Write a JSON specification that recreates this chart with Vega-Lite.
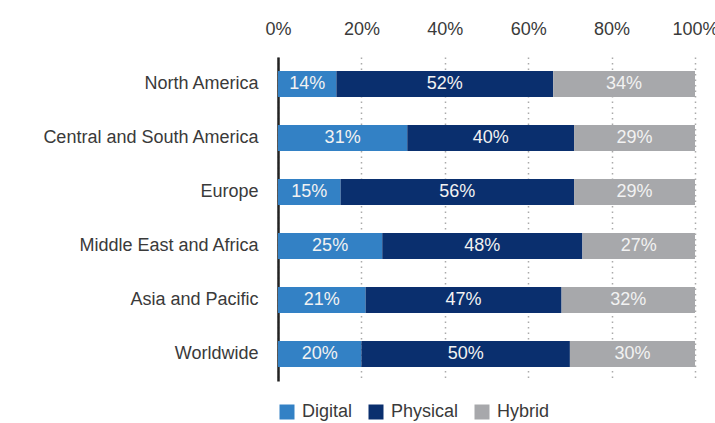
{
  "$schema": "https://vega.github.io/schema/vega-lite/v6.json",
  "width": 417,
  "height": 324,
  "autosize": {"type": "none"},
  "padding": {"left": 278, "top": 57, "right": 20, "bottom": 42},
  "background": "white",
  "config": {
    "view": {"stroke": null},
    "font": "Liberation Sans"
  },
  "data": {
    "values": [
      {"region": "North America", "type": "Digital", "o": 1, "value": 14},
      {"region": "North America", "type": "Physical", "o": 2, "value": 52},
      {"region": "North America", "type": "Hybrid", "o": 3, "value": 34},
      {"region": "Central and South America", "type": "Digital", "o": 1, "value": 31},
      {"region": "Central and South America", "type": "Physical", "o": 2, "value": 40},
      {"region": "Central and South America", "type": "Hybrid", "o": 3, "value": 29},
      {"region": "Europe", "type": "Digital", "o": 1, "value": 15},
      {"region": "Europe", "type": "Physical", "o": 2, "value": 56},
      {"region": "Europe", "type": "Hybrid", "o": 3, "value": 29},
      {"region": "Middle East and Africa", "type": "Digital", "o": 1, "value": 25},
      {"region": "Middle East and Africa", "type": "Physical", "o": 2, "value": 48},
      {"region": "Middle East and Africa", "type": "Hybrid", "o": 3, "value": 27},
      {"region": "Asia and Pacific", "type": "Digital", "o": 1, "value": 21},
      {"region": "Asia and Pacific", "type": "Physical", "o": 2, "value": 47},
      {"region": "Asia and Pacific", "type": "Hybrid", "o": 3, "value": 32},
      {"region": "Worldwide", "type": "Digital", "o": 1, "value": 20},
      {"region": "Worldwide", "type": "Physical", "o": 2, "value": 50},
      {"region": "Worldwide", "type": "Hybrid", "o": 3, "value": 30}
    ]
  },
  "transform": [
    {"stack": "value", "groupby": ["region"], "sort": [{"field": "o"}], "as": ["x0", "x1"]},
    {"calculate": "(datum.x0 + datum.x1) / 2", "as": "xm"}
  ],
  "encoding": {
    "y": {
      "field": "region",
      "type": "nominal",
      "sort": null,
      "title": null,
      "scale": {"paddingInner": 0.52, "paddingOuter": 0.26},
      "axis": {
        "domain": true,
        "domainColor": "#222222",
        "domainWidth": 2.5,
        "ticks": false,
        "labelPadding": 20,
        "labelFontSize": 18,
        "labelLimit": 300,
        "labelColor": "#3a3a3a",
        "labelFont": "Liberation Sans"
      }
    }
  },
  "layer": [
    {
      "mark": {"type": "bar"},
      "encoding": {
        "x": {
          "field": "x0",
          "type": "quantitative",
          "scale": {"domain": [0, 100], "nice": false},
          "title": null,
          "axis": {
            "orient": "top",
            "values": [0, 20, 40, 60, 80, 100],
            "labelExpr": "datum.value + '%'",
            "domain": false,
            "ticks": false,
            "labelPadding": 19,
            "labelFontSize": 18,
            "labelColor": "#3a3a3a",
            "labelFlush": false,
            "grid": true,
            "gridColor": "#aaaaaa",
            "gridDash": [1.5, 4],
            "gridWidth": 1.5
          }
        },
        "x2": {"field": "x1"},
        "color": {
          "field": "type",
          "type": "nominal",
          "scale": {"domain": ["Digital", "Physical", "Hybrid"], "range": ["#3381c5", "#0a2f6e", "#a7a8ab"]},
          "legend": {
            "title": null,
            "orient": "bottom",
            "direction": "horizontal",
            "offset": 22,
            "symbolType": "square",
            "symbolSize": 225,
            "symbolStrokeWidth": 0,
            "symbolOpacity": 1,
            "labelFontSize": 18,
            "labelColor": "#3a3a3a",
            "labelOffset": 6,
            "columnPadding": 14
          }
        }
      }
    },
    {
      "mark": {
        "type": "text",
        "fontSize": 18,
        "color": "#f2f2f2",
        "baseline": "middle",
        "align": "center",
        "text": {"expr": "datum.value + '%'"}
      },
      "encoding": {
        "x": {"field": "xm", "type": "quantitative"}
      }
    }
  ]
}
